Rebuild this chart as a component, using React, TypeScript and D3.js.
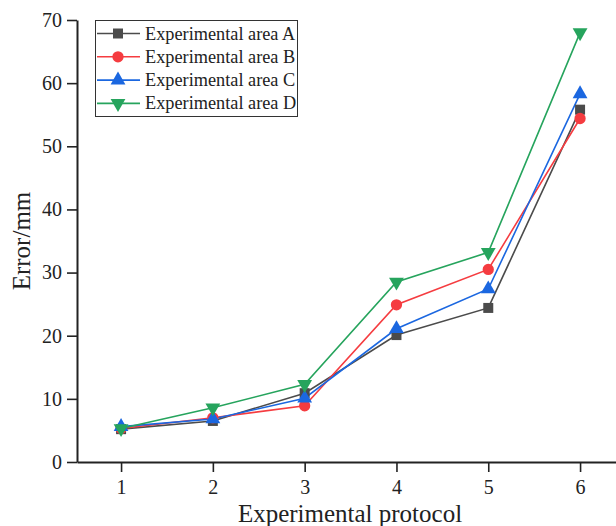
import React, { useEffect, useRef } from "react";
import * as d3 from "d3";

const protocols = [1, 2, 3, 4, 5, 6];
const areaA = [5.2, 6.5, 10.9, 20.1, 24.4, 55.8];
const areaB = [5.3, 7.0, 8.9, 24.9, 30.5, 54.4];
const areaC = [5.6, 6.8, 10.1, 21.1, 27.4, 58.3];
const areaD = [5.3, 8.6, 12.3, 28.5, 33.2, 68.0];
const yTicks = [0, 10, 20, 30, 40, 50, 60, 70];

const seriesNames = ["Experimental area A", "Experimental area B", "Experimental area C", "Experimental area D"];
const seriesColors = ["#4b4b4b", "#f53c40", "#1b67e0", "#26a45d"];
const seriesMarkers = ["square", "circle", "triangleUp", "triangleDown"];

const W = 616;
const H = 526;
const FONT = "'Liberation Serif', 'Times New Roman', serif";

function markerPath(kind: string) {
  if (kind === "square") return d3.symbol(d3.symbolSquare, 100)();
  if (kind === "circle") return d3.symbol(d3.symbolCircle, 100)();
  return d3.symbol(d3.symbolTriangle, 95)();
}

export default function App() {
  const ref = useRef<SVGSVGElement | null>(null);

  useEffect(() => {
    if (!ref.current) return;
    const svg = d3.select(ref.current);
    svg.selectAll("*").remove();

    const x = d3.scaleLinear().domain([0.52, 6.9]).range([77, 77 + 6.38 * 91.8]);
    const y = d3.scaleLinear().domain([0, 70]).range([462, 20]);

    const data = [areaA, areaB, areaC, areaD];

    // axes
    const xAxis = svg.append("g").attr("transform", `translate(0,${y(0)})`)
      .call(d3.axisBottom(x).tickValues(protocols).tickSize(10).tickSizeOuter(0).tickPadding(8).tickFormat(d3.format("d")));
    const yAxis = svg.append("g").attr("transform", `translate(${x(0.52)},0)`)
      .call(d3.axisLeft(y).tickValues(yTicks).tickSize(10).tickSizeOuter(0).tickPadding(5));
    [xAxis, yAxis].forEach((g) => {
      g.selectAll("path").attr("stroke", "#222").attr("stroke-width", 2);
      g.selectAll("line").attr("stroke", "#222").attr("stroke-width", 1.6);
      g.selectAll("text").attr("fill", "#222").style("font-family", FONT).style("font-size", "20px");
    });

    svg.append("text")
      .attr("x", 350).attr("y", 522)
      .attr("text-anchor", "middle")
      .style("font-family", FONT).style("font-size", "25px").attr("fill", "#222")
      .text("Experimental protocol");
    svg.append("text")
      .attr("transform", `translate(30,${y(35)}) rotate(-90)`)
      .attr("text-anchor", "middle")
      .style("font-family", FONT).style("font-size", "25px").attr("fill", "#222")
      .text("Error/mm");

    const line = d3.line<number>().x((_, i) => x(protocols[i])).y((d) => y(d));

    data.forEach((vals, s) => {
      svg.append("path").datum(vals)
        .attr("d", line).attr("fill", "none")
        .attr("stroke", seriesColors[s]).attr("stroke-width", 1.6);
    });
    data.forEach((vals, s) => {
      svg.append("g").selectAll("path").data(vals).enter().append("path")
        .attr("d", markerPath(seriesMarkers[s]))
        .attr("transform", (d, i) => `translate(${x(protocols[i])},${y(d)})${seriesMarkers[s] === "triangleDown" ? " rotate(180)" : ""}`)
        .attr("fill", seriesColors[s]);
    });

    // legend
    const lg = svg.append("g");
    lg.append("rect").attr("x", 95.5).attr("y", 20.5).attr("width", 202).attr("height", 96)
      .attr("fill", "white").attr("stroke", "#333").attr("stroke-width", 1);
    seriesNames.forEach((name, s) => {
      const cy = 33.5 + s * 23.3;
      lg.append("line").attr("x1", 97).attr("x2", 140).attr("y1", cy).attr("y2", cy)
        .attr("stroke", seriesColors[s]).attr("stroke-width", 1.6);
      lg.append("path").attr("d", markerPath(seriesMarkers[s]))
        .attr("transform", `translate(118,${cy})${seriesMarkers[s] === "triangleDown" ? " rotate(180)" : ""}`)
        .attr("fill", seriesColors[s]);
      lg.append("text").attr("x", 145).attr("y", cy + 6)
        .style("font-family", FONT).style("font-size", "18.3px").attr("fill", "#222")
        .text(name);
    });
  }, []);

  return (
    <div style={{ position: "absolute", left: 0, top: 0, width: W, height: H, background: "white" }}>
      <svg ref={ref} width={W} height={H} style={{ display: "block" }} />
    </div>
  );
}
